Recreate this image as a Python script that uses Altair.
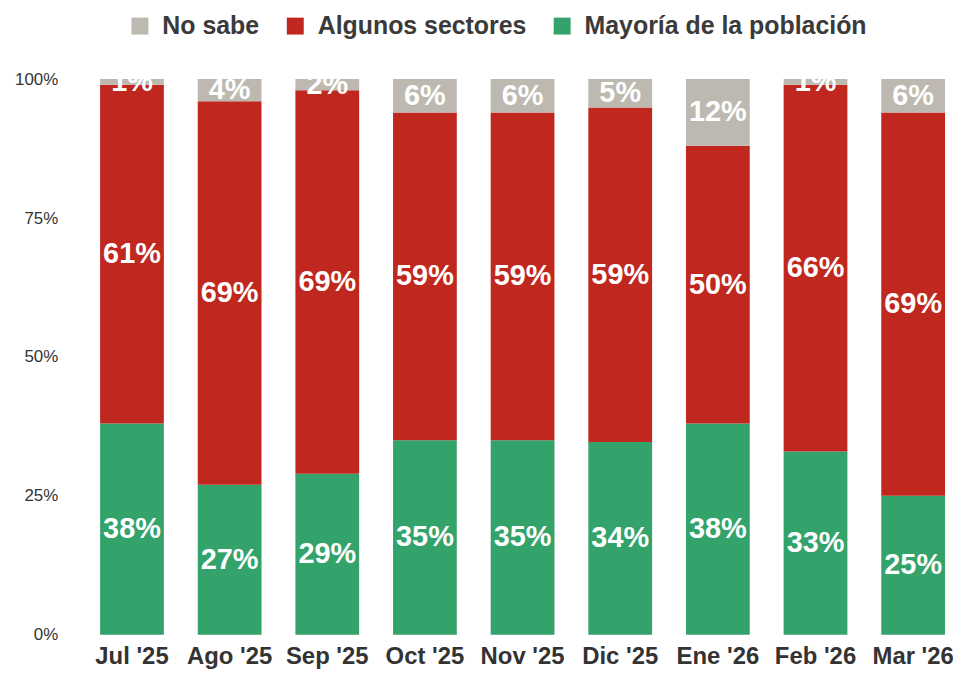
import altair as alt
import pandas as pd

meses = ["Jul '25", "Ago '25", "Sep '25", "Oct '25", "Nov '25", "Dic '25", "Ene '26", "Feb '26", "Mar '26"]
mayoria = [38, 27, 29, 35, 35, 34, 38, 33, 25]
algunos = [61, 69, 69, 59, 59, 59, 50, 66, 69]
no_sabe = [1, 4, 2, 6, 6, 5, 12, 1, 6]

series = ["No sabe", "Algunos sectores", "Mayoría de la población"]
colores = ["#bdb9b1", "#c0281f", "#33a36b"]
orden = {"Mayoría de la población": 0, "Algunos sectores": 1, "No sabe": 2}

rows = []
for i, m in enumerate(meses):
    for s, vals in (("Mayoría de la población", mayoria), ("Algunos sectores", algunos), ("No sabe", no_sabe)):
        rows.append({"mes": m, "serie": s, "valor": vals[i], "ord": orden[s]})
df = pd.DataFrame(rows)

FONT = "Liberation Sans"

base = alt.Chart(df).transform_stack(
    stack="valor", groupby=["mes"], as_=["y0", "y1"], offset="normalize",
    sort=[alt.SortField("ord", order="ascending")]
).transform_calculate(
    mid="(datum.y0 + datum.y1) / 2",
    etiqueta="datum.valor + '%'"
)

x_enc = alt.X("mes:N", sort=meses, title=None,
              scale=alt.Scale(paddingInner=0.347, paddingOuter=0.1045, align=1),
              axis=alt.Axis(labelAngle=0, labelFont=FONT, labelFontSize=24, labelFontWeight="bold",
                            labelColor="#333333", ticks=False, domain=False, labelPadding=10))

bars = base.mark_bar().encode(
    x=x_enc,
    y=alt.Y("y0:Q", title=None, scale=alt.Scale(domain=[0, 1]),
            axis=alt.Axis(format="%", values=[0, 0.25, 0.5, 0.75, 1], grid=False, ticks=False, domain=False,
                          labelFont=FONT, labelFontSize=17, labelColor="#333333", labelPadding=22)),
    y2="y1:Q",
    color=alt.Color("serie:N", scale=alt.Scale(domain=series, range=colores),
                    legend=alt.Legend(title=None, orient="none", direction="horizontal",
                                      legendX=48, legendY=-66, padding=0, symbolType="square", symbolSize=289,
                                      symbolStrokeWidth=0, labelFont=FONT, labelFontSize=25,
                                      labelColor="#3a3a3a", labelFontWeight="bold", labelLimit=0,
                                      columnPadding=23, symbolOffset=0, labelOffset=10)),
)

labels = base.mark_text(font=FONT, fontSize=29, fontWeight="bold", color="white",
                        baseline="middle", align="center").encode(
    x=alt.X("mes:N", sort=meses),
    y=alt.Y("mid:Q"),
    text="etiqueta:N",
)

chart = alt.layer(bars, labels).properties(
    width=869, height=558,
    autosize=alt.AutoSizeParams(type="none"),
    padding={"left": 72, "top": 70, "right": 8, "bottom": 42},
).configure_view(stroke=None)

chart.save("out.html", embed_options={"renderer": "svg", "actions": False})
